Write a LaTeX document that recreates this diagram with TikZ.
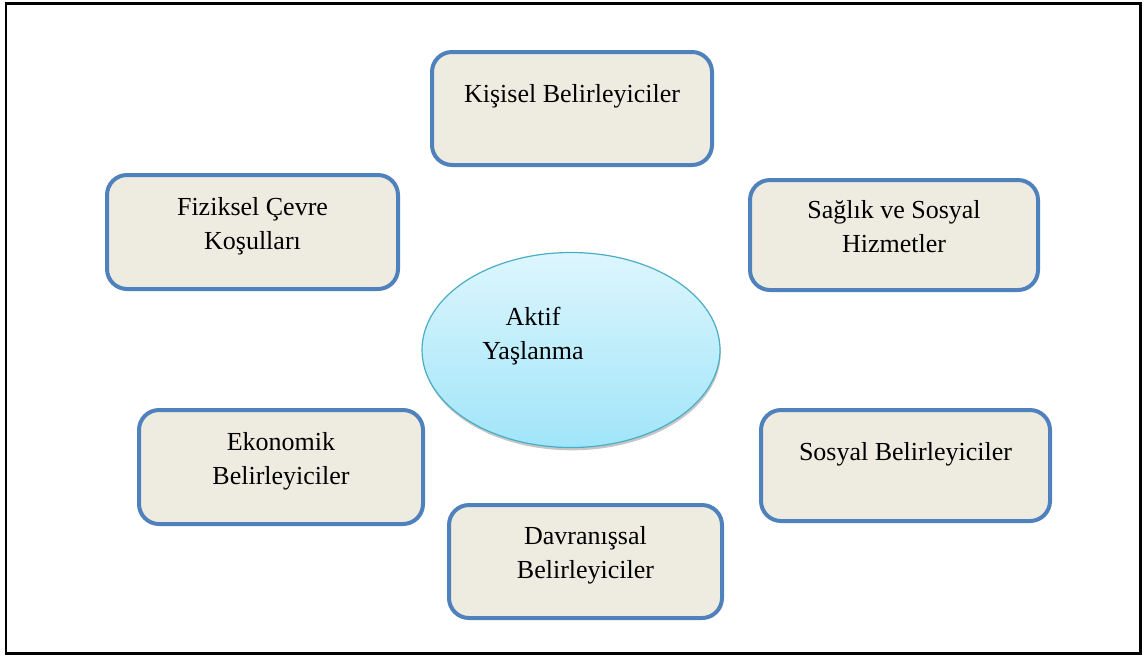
\documentclass[tikz,border=0pt]{standalone}
\usepackage{fontspec}
\setmainfont{Liberation Serif}
\usetikzlibrary{shapes.geometric, shadows}
\definecolor{boxfill}{HTML}{EEECE1}
\definecolor{boxline}{HTML}{4F81BD}
\definecolor{ovaltop}{HTML}{DDF6FD}
\definecolor{ovalbot}{HTML}{A0E5F9}
\definecolor{ovalline}{HTML}{4BACC6}

\begin{document}
\begin{tikzpicture}[x=0.5pt, y=-0.5pt, font=\fontsize{13}{17}\selectfont, align=center,
  box/.style={draw=boxline, line width=2pt, fill=boxfill, rounded corners=10pt, inner sep=0pt,
    drop shadow={shadow xshift=0.6pt, shadow yshift=-0.6pt, opacity=0.2}},
  oval/.style={ellipse, draw=ovalline, line width=0.6pt, top color=ovaltop, bottom color=ovalbot,
    inner sep=0pt, drop shadow={shadow xshift=0.4pt, shadow yshift=-1.4pt, opacity=0.45}},
  boxtxt/.style={inner sep=0pt}]
  \useasboundingbox (0,0) rectangle (1145,655);
  \draw[line width=1.3pt] (6,3.5) rectangle (1140.5,653.5);

  \node[oval, minimum width=149pt, minimum height=97.5pt] (aktif) at (571,350) {};
  \node[boxtxt] (aktif-txt) at (533,336.5) {Aktif\\Yaşlanma};

  \node[box, minimum width=140pt, minimum height=56.5pt] (kisisel) at (572,108.5) {};
  \node[boxtxt] (kisisel-txt) at ([yshift=6pt]kisisel.center) {Kişisel Belirleyiciler};

  \node[box, minimum width=145.5pt, minimum height=57pt] (fiziksel) at (252.5,232) {};
  \node[boxtxt] (fiziksel-txt) at ([yshift=3pt]fiziksel.center) {Fiziksel Çevre\\Koşulları};

  \node[box, minimum width=144pt, minimum height=55pt] (saglik) at (894,235) {};
  \node[boxtxt] (saglik-txt) at ([yshift=4pt]saglik.center) {Sağlık ve Sosyal\\Hizmetler};

  \node[box, minimum width=142pt, minimum height=57pt] (ekonomik) at (281,467) {};
  \node[boxtxt] (ekonomik-txt) at ([yshift=3pt]ekonomik.center) {Ekonomik\\Belirleyiciler};

  \node[box, minimum width=144.5pt, minimum height=55.5pt] (sosyal) at (905.5,465.5) {};
  \node[boxtxt] (sosyal-txt) at ([yshift=5.75pt]sosyal.center) {Sosyal Belirleyiciler};

  \node[box, minimum width=136.5pt, minimum height=56.5pt] (davranissal) at (585.5,561.5) {};
  \node[boxtxt] (davranissal-txt) at ([yshift=3.25pt]davranissal.center) {Davranışsal\\Belirleyiciler};
\end{tikzpicture}
\end{document}
